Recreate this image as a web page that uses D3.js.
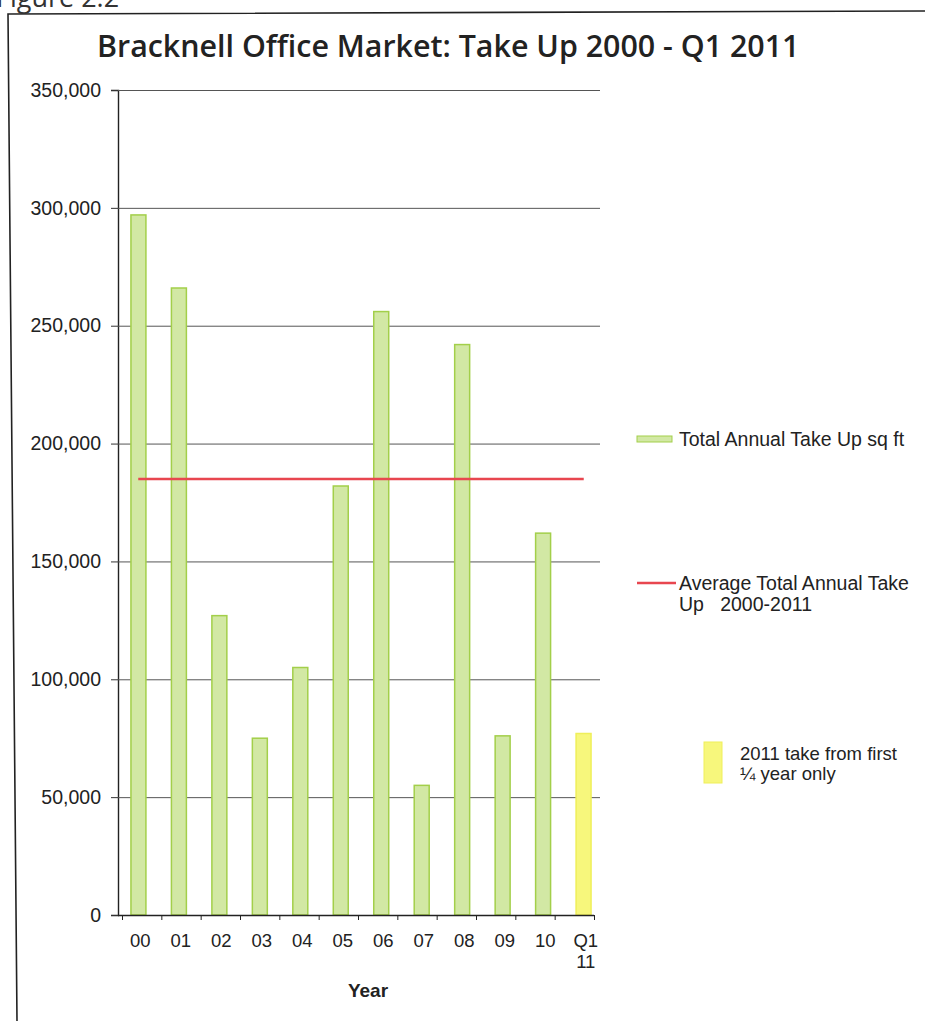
<!DOCTYPE html>
<html>
<head>
<meta charset="utf-8">
<script src="https://cdn.jsdelivr.net/npm/d3@7"></script>
<style>
  body { margin: 0; background: #fff; }
  svg { display: block; }
</style>
</head>
<body>
<div id="chart"></div>
<script>
// chart data
const years = ["00", "01", "02", "03", "04", "05", "06", "07", "08", "09", "10", "Q1 11"];
const takeUp = [297000, 266000, 127000, 75000, 105000, 182000, 256000, 55000, 242000, 76000, 162000, 77000];
const partialYear = ["Q1 11"]; // drawn in yellow
const average = 185000;
const yTicks = [0, 50000, 100000, 150000, 200000, 250000, 300000, 350000];

const width = 925, height = 1021;
const marginLeft = 118, plotRight = 604, gridRight = 600;
const yTop = 90, yBottom = 915;

const svg = d3.select("#chart").append("svg")
      .attr("width", width)
      .attr("height", height)
      .attr("viewBox", [0, 0, width, height]);

// figure frame (scanned page, slightly skewed)
svg.append("path")
      .attr("d", "M17,1021 L8,14 L925,11")
      .attr("fill", "none")
      .attr("stroke", "#222")
      .attr("stroke-width", 1.6);

svg.append("text")
      .attr("x", -4)
      .attr("y", 7)
      .attr("font-family", "Open Sans, sans-serif")
      .attr("font-size", 27)
      .attr("fill", "#333")
      .text("Figure 2.2");

// title
svg.append("text")
      .attr("x", 97)
      .attr("y", 57)
      .attr("font-family", "Open Sans, sans-serif")
      .attr("font-weight", 600)
      .attr("font-size", 30.4)
      .attr("fill", "#222")
      .text("Bracknell Office Market: Take Up 2000 - Q1 2011");

// scales
const x = d3.scaleBand()
      .domain(years)
      .range([marginLeft, plotRight])
      .paddingInner(0.63)
      .paddingOuter(0.32);

const xc = d3.scalePoint()
      .domain(years)
      .range([marginLeft, plotRight])
      .padding(0.5);

const y = d3.scaleLinear()
      .domain([0, 350000])
      .range([yBottom, yTop]);

// y axis + gridlines
const yAxis = d3.axisLeft(y)
      .tickValues(yTicks)
      .tickFormat(d3.format(","))
      .tickSize(7)
      .tickPadding(10);

svg.append("g")
      .attr("transform", `translate(${marginLeft},0)`)
      .call(yAxis)
      .call(g => g.select(".domain").attr("stroke", "#222").attr("stroke-width", 1.4))
      .call(g => g.selectAll(".tick line").attr("stroke", "#333"))
      .call(g => g.selectAll(".tick").filter(d => d > 0).append("line")
            .attr("x2", gridRight - marginLeft)
            .attr("stroke", "#555")
            .attr("stroke-width", 1))
      .call(g => g.selectAll(".tick text")
            .attr("font-family", "Liberation Sans, Arial, sans-serif")
            .attr("font-size", 19.5)
            .attr("fill", "#222"));

// bars
svg.append("g")
      .selectAll("rect")
      .data(years)
      .join("rect")
      .attr("x", d => x(d))
      .attr("y", (d, i) => y(takeUp[i]))
      .attr("width", x.bandwidth())
      .attr("height", (d, i) => y(0) - y(takeUp[i]))
      .attr("fill", d => partialYear.includes(d) ? "#f7f77c" : "#d2e8a4")
      .attr("stroke", d => partialYear.includes(d) ? "#efef5a" : "#a3cf4a")
      .attr("stroke-width", 1.5);

// average line
const line = d3.line()
      .x(d => xc(d))
      .y(() => y(average));

svg.append("path")
      .datum(years)
      .attr("d", line)
      .attr("fill", "none")
      .attr("stroke", "#e8464f")
      .attr("stroke-width", 2.5);

// x axis
const xBounds = d3.scaleLinear()
      .domain([0, years.length])
      .range([marginLeft + 4, plotRight - 10]);

svg.append("g")
      .attr("transform", `translate(0,${yBottom})`)
      .call(d3.axisBottom(xBounds).ticks(years.length).tickSize(5).tickFormat(""))
      .call(g => g.select(".domain").attr("stroke", "#222").attr("stroke-width", 1.4).attr("d", `M${marginLeft},0.5H${plotRight - 10}`))
      .call(g => g.selectAll(".tick line").attr("stroke", "#222"));

const xLabels = svg.append("g")
      .attr("font-family", "Liberation Sans, Arial, sans-serif")
      .attr("font-size", 18.5)
      .attr("fill", "#222")
      .attr("text-anchor", "middle")
      .selectAll("text")
      .data(years)
      .join("text")
      .attr("x", d => xc(d) + 2)
      .attr("y", 947);

xLabels.selectAll("tspan")
      .data(d => d.split(" "))
      .join("tspan")
      .attr("x", function () { return this.parentNode.getAttribute("x"); })
      .attr("dy", (d, i) => i === 0 ? 0 : 21)
      .text(d => d);

svg.append("text")
      .attr("x", 368)
      .attr("y", 997)
      .attr("text-anchor", "middle")
      .attr("font-family", "Liberation Sans, Arial, sans-serif")
      .attr("font-weight", "bold")
      .attr("font-size", 19)
      .attr("fill", "#222")
      .text("Year");

// legend
const legend = svg.append("g")
      .attr("font-family", "Liberation Sans, Arial, sans-serif")
      .attr("font-size", 19.5)
      .attr("fill", "#222");

legend.append("rect")
      .attr("x", 637).attr("y", 436)
      .attr("width", 35).attr("height", 6)
      .attr("fill", "#d2e8a4")
      .attr("stroke", "#a3cf4a")
      .attr("stroke-width", 1);

legend.append("text")
      .attr("x", 679).attr("y", 446)
      .text("Total Annual Take Up sq ft");

legend.append("line")
      .attr("x1", 637).attr("x2", 676)
      .attr("y1", 583).attr("y2", 583)
      .attr("stroke", "#e8464f")
      .attr("stroke-width", 2.5);

legend.append("text")
      .attr("x", 679).attr("y", 590)
      .text("Average Total Annual Take");

legend.append("text")
      .attr("x", 679).attr("y", 611)
      .attr("xml:space", "preserve")
      .text("Up   2000-2011");

legend.append("rect")
      .attr("x", 704).attr("y", 742)
      .attr("width", 18).attr("height", 41)
      .attr("fill", "#f7f77c")
      .attr("stroke", "#efef5a")
      .attr("stroke-width", 1);

legend.append("text")
      .attr("x", 740).attr("y", 760)
      .attr("font-size", 18.5)
      .text("2011 take from first");

legend.append("text")
      .attr("x", 740).attr("y", 780)
      .attr("font-size", 18.5)
      .text("¼ year only");
</script>
</body>
</html>
